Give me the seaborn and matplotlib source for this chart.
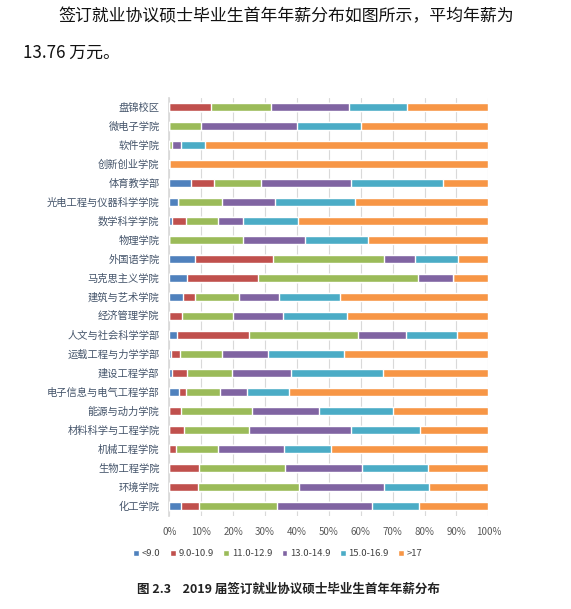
import numpy as np
import pandas as pd
import matplotlib
matplotlib.use("Agg")
import matplotlib.pyplot as plt
import seaborn as sns

colleges = ["盘锦校区", "微电子学院", "软件学院", "创新创业学院", "体育教学部",
            "光电工程与仪器科学学院", "数学科学学院", "物理学院", "外国语学院",
            "马克思主义学院", "建筑与艺术学院", "经济管理学院", "人文与社会科学学部",
            "运载工程与力学学部", "建设工程学部", "电子信息与电气工程学部",
            "能源与动力学院", "材料科学与工程学院", "机械工程学院", "生物工程学院",
            "环境学院", "化工学院"]
bands = ["<9.0", "9.0-10.9", "11.0-12.9", "13.0-14.9", "15.0-16.9", ">17"]

# share of graduates per salary band (%), one list per band
lt9 = [0, 0, 0, 0, 6.8, 2.6, 0.8, 0, 8.0, 5.4, 4.4, 0, 2.3, 0.5, 0.8, 3.1, 0, 0, 0, 0, 0, 3.6]
s9_11 = [13.1, 0, 0, 0, 7.3, 0, 4.3, 0, 24.4, 22.3, 3.5, 4.1, 22.8, 2.8, 4.7, 2.1, 3.8, 4.5, 2.1, 9.4, 9.0, 5.8]
s11_13 = [18.7, 9.8, 0.9, 0, 14.5, 13.9, 10.1, 23.2, 35.0, 50.3, 13.8, 16.0, 34.0, 13.2, 14.2, 10.8, 22.1, 20.6, 13.2, 27.0, 31.5, 24.4]
s13_15 = [24.6, 30.1, 2.9, 0, 28.2, 16.7, 7.9, 19.4, 9.6, 10.8, 12.8, 15.4, 15.1, 14.5, 18.6, 8.3, 21.1, 31.7, 20.5, 24.0, 26.8, 29.8]
s15_17 = [18.2, 20.1, 7.4, 0, 28.9, 25.0, 17.1, 19.8, 13.5, 0, 19.1, 20.3, 16.0, 23.9, 28.6, 13.1, 23.0, 21.8, 15.0, 20.6, 14.1, 14.6]
gt17 = [25.4, 40.0, 88.8, 100, 14.3, 41.8, 59.8, 37.6, 9.5, 11.2, 46.4, 44.2, 9.8, 45.1, 33.1, 62.6, 30.0, 21.4, 49.2, 19.0, 18.6, 21.8]

colors = ["#4F81BD", "#C0504D", "#9BBB59", "#8064A2", "#4BACC6", "#F79646"]

sns.set_theme(style="white")
plt.rcParams["font.family"] = ["Noto Sans CJK SC", "DejaVu Sans"]

vals = np.array([lt9, s9_11, s11_13, s13_15, s15_17, gt17]).T
vals = vals / vals.sum(axis=1, keepdims=True) * 100
cum = np.cumsum(vals, axis=1)

fig = plt.figure(figsize=(5.71, 6.09), dpi=100)
ax = fig.add_axes([0.2965, 0.1535, 0.5587, 0.6864])

# stacked bars: draw cumulative totals from the widest down
for i in range(len(bands) - 1, -1, -1):
    df = pd.DataFrame({"college": colleges, "cum": cum[:, i]})
    sns.barplot(data=df, x="cum", y="college", color=colors[i], label=bands[i],
                width=0.38, saturation=1, ax=ax, zorder=3)

ax.set_xlim(0, 100)
ax.set_ylim(len(colleges) - 0.5, -0.5)
ax.set_xticks(np.arange(0, 101, 10))
ax.set_xticklabels([f"{t}%" for t in range(0, 101, 10)], fontsize=7, color="#595959")
ax.tick_params(axis="y", labelsize=7.4, labelcolor="#44546A", pad=7, length=0)
ax.tick_params(axis="x", length=0, pad=8)
ax.set_xlabel("")
ax.set_ylabel("")
ax.grid(axis="x", color="#D9D9D9", linewidth=0.8, zorder=0)
for s in ["top", "right", "bottom"]:
    ax.spines[s].set_visible(False)
ax.spines["left"].set_color("#D9D9D9")

h, l = ax.get_legend_handles_labels()
ax.legend(h[::-1], l[::-1], loc="center", bbox_to_anchor=(278 / 571, 1 - 554 / 609),
          bbox_transform=fig.transFigure, ncol=6, frameon=False, fontsize=6.8,
          handlelength=0.6, handleheight=0.6, handletextpad=0.3, columnspacing=1.0,
          labelcolor="#404040")

fig.text(58 / 571, 1 - 16 / 609, "签订就业协议硕士毕业生首年年薪分布如图所示，平均年薪为",
         fontsize=12.2, va="center", color="#111111", fontweight="light")
fig.text(23 / 571, 1 - 53 / 609, "13.76 万元。", fontsize=12.2, va="center",
         color="#111111", fontweight="light")
fig.text(288 / 571, 1 - 589 / 609, "图 2.3    2019 届签订就业协议硕士毕业生首年年薪分布",
         fontsize=9, ha="center", va="center", fontweight="bold", color="#222222")

fig.savefig("out.png", dpi=100)
